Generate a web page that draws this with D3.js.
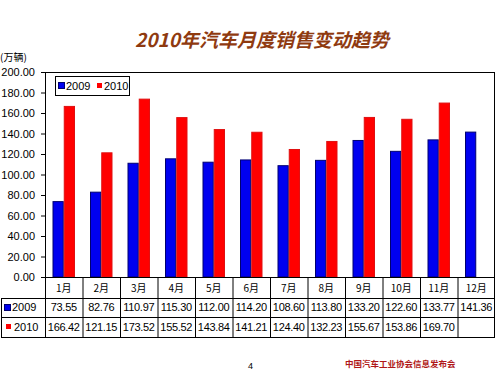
<!DOCTYPE html>
<html><head><meta charset="utf-8">
<script src="https://cdn.jsdelivr.net/npm/d3@7"></script>
<style>body{margin:0;background:#fff}svg{display:block}</style>
</head><body>
<script>
const months = ["1月","2月","3月","4月","5月","6月","7月","8月","9月","10月","11月","12月"];
const seriesNames = ["2009","2010"];
const sales2009 = [73.55,82.76,110.97,115.30,112.00,114.20,108.60,113.80,133.20,122.60,133.77,141.36];
const sales2010 = [166.42,121.15,173.52,155.52,143.84,141.21,124.40,132.23,155.67,153.86,169.70,null];
const yTicks = [0,20,40,60,80,100,120,140,160,180,200];
const colors = ["#0000f0","#ff0000"];
const strokes = ["#000070","#e01010"];

const W=500,H=377;
const svg=d3.select("body").append("svg").attr("width",W).attr("height",H);
const L=45,R=495,T=72,B=277;
const font="Arial, 'Liberation Sans', sans-serif";

svg.append("text").attr("x",262).attr("y",47).attr("text-anchor","middle")
  .attr("font-family","'Noto Sans CJK SC', sans-serif").attr("font-size",19).attr("font-weight","bold")
  .attr("font-style","italic").attr("fill","#8f3a10").text("2010年汽车月度销售变动趋势");
svg.append("text").attr("x",0).attr("y",61).attr("font-family","'Noto Sans CJK SC', sans-serif")
  .attr("font-size",10).attr("fill","#000").text("(万辆)");

const x=d3.scaleBand().domain(months).range([L,R]).paddingInner(0.4).paddingOuter(0.2);
const xFull=d3.scaleBand().domain(months).range([L,R]);
const y=d3.scaleLinear().domain([0,200]).range([B,T]);
const xs=d3.scaleBand().domain(seriesNames).range([0,x.bandwidth()]);

const yAxis=svg.append("g").attr("transform",`translate(${L},0)`)
  .call(d3.axisLeft(y).tickValues(yTicks).tickFormat(d3.format(".2f")).tickSize(4));
yAxis.select(".domain").remove();
yAxis.selectAll("text").attr("font-family",font).attr("font-size",11).attr("fill","#000").attr("x",-10);
yAxis.selectAll("line").attr("stroke","#000");

const data=[sales2009,sales2010];
data.forEach((vals,si)=>{
  svg.append("g").selectAll("rect").data(months.map((m,i)=>({m,v:vals[i]})).filter(d=>d.v!=null))
   .join("rect")
   .attr("x",d=>x(d.m)+xs(seriesNames[si])+0.5)
   .attr("y",d=>y(d.v))
   .attr("width",xs.bandwidth()-1)
   .attr("height",d=>B-y(d.v))
   .attr("fill",colors[si]).attr("stroke",strokes[si]).attr("stroke-width",1);
});

svg.append("rect").attr("x",L+0.5).attr("y",T+0.5).attr("width",R-L-1).attr("height",B-T)
  .attr("fill","none").attr("stroke","#000");

// legend
const lg=svg.append("g");
lg.append("rect").attr("x",55.5).attr("y",76.5).attr("width",74).attr("height",19).attr("fill","#fff").attr("stroke","#000");
lg.append("rect").attr("x",58.5).attr("y",82.5).attr("width",6).attr("height",6).attr("fill",colors[0]).attr("stroke","#000070");
lg.append("text").attr("x",66).attr("y",90).attr("font-family",font).attr("font-size",11).text(seriesNames[0]);
lg.append("rect").attr("x",97).attr("y",83).attr("width",5).attr("height",5).attr("fill",colors[1]);
lg.append("text").attr("x",104).attr("y",90).attr("font-family",font).attr("font-size",11).text(seriesNames[1]);

// data table
const rows=[277,298,317,337];
const tg=svg.append("g").attr("stroke","#000").attr("stroke-width",1);
rows.forEach((ry,i)=>{
  tg.append("line").attr("x1",i===0?L:1).attr("x2",R).attr("y1",ry+0.5).attr("y2",ry+0.5);
});
tg.append("line").attr("x1",1.5).attr("x2",1.5).attr("y1",298).attr("y2",337.5);
months.forEach(m=>{
  tg.append("line").attr("x1",xFull(m)+0.5).attr("x2",xFull(m)+0.5).attr("y1",277).attr("y2",337.5);
});
tg.append("line").attr("x1",R-0.5).attr("x2",R-0.5).attr("y1",277).attr("y2",337.5);

const tt=svg.append("g").attr("font-family",font).attr("font-size",11).attr("fill","#000");
months.forEach(m=>{
  tt.append("text").attr("x",xFull(m)+xFull.bandwidth()/2).attr("y",292).attr("text-anchor","middle")
    .attr("font-family","'Noto Sans CJK SC', sans-serif").attr("font-size",10).text(m);
});
data.forEach((vals,si)=>{
  const cy=[311,331][si];
  months.forEach((m,i)=>{
    if(vals[i]==null) return;
    tt.append("text").attr("x",xFull(m)+xFull.bandwidth()/2).attr("y",cy).attr("text-anchor","middle")
      .attr("letter-spacing",-0.3).text(vals[i].toFixed(2));
  });
});
svg.append("rect").attr("x",4.5).attr("y",304.5).attr("width",6).attr("height",6).attr("fill",colors[0]).attr("stroke","#000070");
tt.append("text").attr("x",12).attr("y",311).text(seriesNames[0]);
svg.append("rect").attr("x",6).attr("y",324).attr("width",5).attr("height",5).attr("fill",colors[1]);
tt.append("text").attr("x",14).attr("y",331).text(seriesNames[1]);

// footer
svg.append("text").attr("x",248).attr("y",369).attr("font-family",font).attr("font-size",9).text("4");
svg.append("text").attr("x",345).attr("y",367).attr("font-family","'Noto Sans CJK SC', sans-serif")
  .attr("font-size",8.5).attr("font-weight","bold").attr("fill","#b01818").text("中国汽车工业协会信息发布会");
</script>
</body></html>
